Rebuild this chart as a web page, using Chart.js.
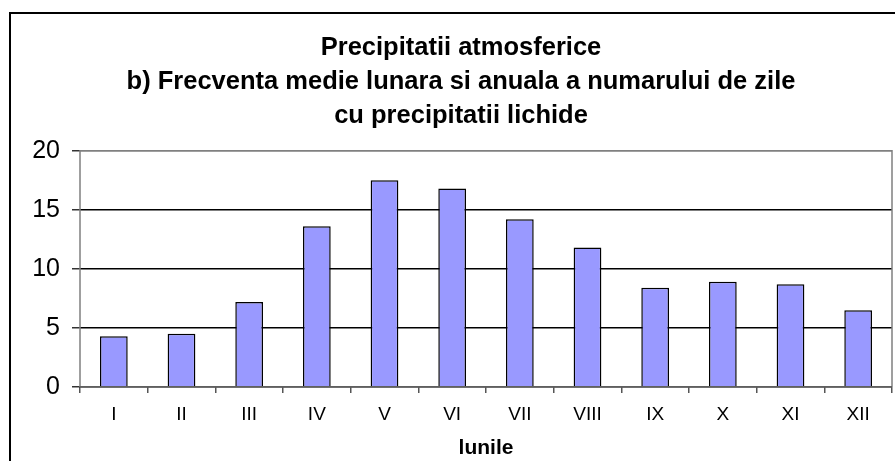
<!DOCTYPE html>
<html>
<head>
<meta charset="utf-8">
<script src="https://cdn.jsdelivr.net/npm/chart.js@4/dist/chart.umd.min.js"></script>
<style>
  html, body { margin: 0; padding: 0; background: #fff; overflow: hidden; }
  #frame { position: absolute; left: 9px; top: 12px; width: 900px; height: 460px; border: 2px solid #000; }
  #wrap { position: absolute; left: 0; top: 0; width: 895px; height: 461px; }
</style>
</head>
<body>
<div id="frame"></div>
<div id="wrap"><canvas id="zileChart" width="895" height="461"></canvas></div>
<script>
// months (roman numerals) and mean number of days with liquid precipitation
const luni = ["I", "II", "III", "IV", "V", "VI", "VII", "VIII", "IX", "X", "XI", "XII"];
const zile = [4.3, 4.5, 7.2, 13.6, 17.5, 16.8, 14.2, 11.8, 8.4, 8.9, 8.7, 6.5];
const yTicks = [0, 5, 10, 15, 20];

const titleLines = [
    "Precipitatii atmosferice",
    "b) Frecventa medie lunara si anuala a numarului de zile",
    "cu precipitatii lichide"
];

// gray frame round the plot area
const plotFrame = {
    id: "plotFrame",
    afterDatasetsDraw(chart) {
        const a = chart.chartArea;
        const ctx = chart.ctx;
        ctx.save();
        ctx.strokeStyle = "#808080";
        ctx.lineWidth = 1.5;
        ctx.beginPath();
        ctx.moveTo(a.left, a.bottom);
        ctx.lineTo(a.left, a.top);
        ctx.lineTo(a.right, a.top);
        ctx.lineTo(a.right, a.bottom);
        ctx.stroke();
        ctx.strokeStyle = "#555";
        ctx.beginPath();
        ctx.moveTo(a.left, a.bottom);
        ctx.lineTo(a.right, a.bottom);
        ctx.stroke();
        ctx.restore();
    }
};

const config = {
    type: "bar",
    data: {
        labels: luni,
        datasets: [{
            data: zile,
            backgroundColor: "#9999FF",
            borderColor: "#000",
            borderWidth: 1.5,
            barPercentage: 0.41,
            categoryPercentage: 1.0
        }]
    },
    options: {
        responsive: false,
        animation: false,
        layout: {
            padding: { left: 30, right: 3, top: 0, bottom: 0 }
        },
        plugins: {
            legend: { display: false },
            tooltip: { enabled: false },
            title: {
                display: true,
                text: titleLines,
                color: "#000",
                font: { family: "Liberation Sans, Arial, sans-serif", size: 25.5, weight: "bold", lineHeight: 1.33 },
                padding: { top: 31, bottom: 18 }
            }
        },
        scales: {
            x: {
                grid: {
                    drawOnChartArea: false,
                    drawTicks: true,
                    tickLength: 6,
                    color: "#555",
                    lineWidth: 1.5
                },
                border: { display: false },
                ticks: {
                    color: "#000",
                    font: { family: "Liberation Sans, Arial, sans-serif", size: 19 },
                    padding: 10
                },
                title: {
                    display: true,
                    text: "lunile",
                    color: "#000",
                    font: { family: "Liberation Sans, Arial, sans-serif", size: 21, weight: "bold" },
                    padding: { top: 0, bottom: 0 }
                }
            },
            y: {
                min: 0,
                max: 20,
                afterBuildTicks(scale) {
                    scale.ticks = yTicks.map(v => ({ value: v }));
                },
                afterFit(scale) {
                    scale.width = 50;
                },
                grid: {
                    color: ctx => (ctx.tick && (ctx.tick.value === 0 || ctx.tick.value === 20)) ? "#808080" : "#000",
                    lineWidth: 1.5,
                    tickLength: 8,
                    tickColor: "#333"
                },
                border: { display: false },
                ticks: {
                    color: "#000",
                    font: { family: "Liberation Sans, Arial, sans-serif", size: 25 },
                    padding: 12
                }
            }
        }
    },
    plugins: [plotFrame]
};

const zileChart = new Chart(document.getElementById("zileChart").getContext("2d"), config);
</script>
</body>
</html>
